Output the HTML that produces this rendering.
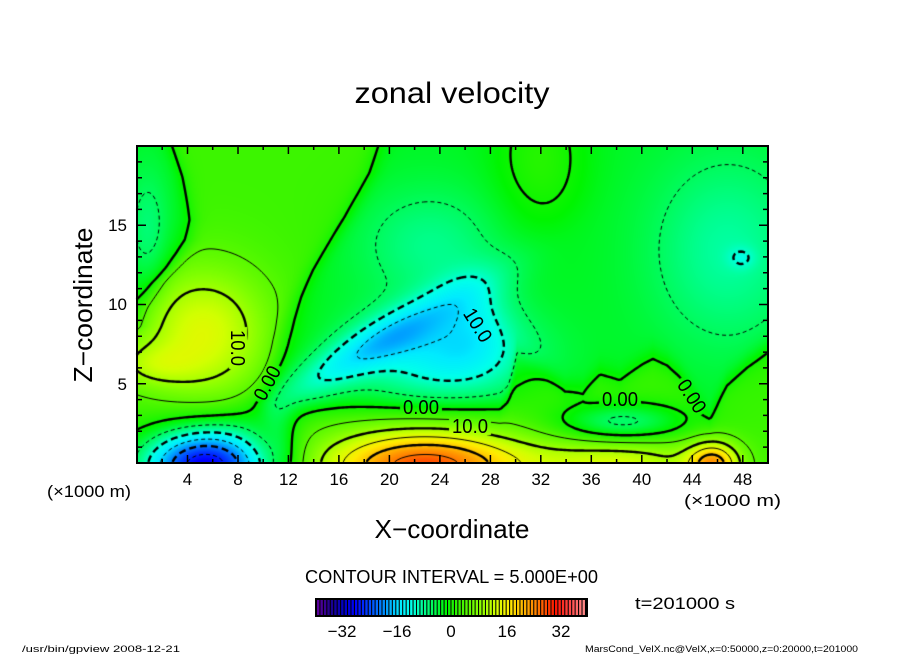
<!DOCTYPE html>
<html><head><meta charset="utf-8"><title>zonal velocity</title>
<style>
html,body{margin:0;padding:0;background:#fff}
#w{position:relative;width:904px;height:654px;overflow:hidden;background:#fff}
#c,#s{position:absolute;left:0;top:0}
text{font-family:"Liberation Sans",sans-serif;fill:#000}
</style></head><body><div id="w">
<canvas id="c" width="904" height="654"></canvas>
<svg id="s" width="904" height="654" viewBox="0 0 904 654" xmlns="http://www.w3.org/2000/svg">
<g id="ticks" stroke="#000" stroke-width="1.5" fill="none"></g>
<rect x="137" y="146" width="631" height="317" fill="none" stroke="#000" stroke-width="2"/>
<g id="cl" font-size="20"></g>
<text x="452" y="103" font-size="30" text-anchor="middle" textLength="195" lengthAdjust="spacingAndGlyphs">zonal velocity</text>
<text transform="translate(92,305) rotate(-90)" font-size="26" text-anchor="middle" textLength="155" lengthAdjust="spacingAndGlyphs">Z−coordinate</text>
<text x="452" y="538" font-size="26" text-anchor="middle" textLength="155" lengthAdjust="spacingAndGlyphs">X−coordinate</text>
<g font-size="17" text-anchor="end">
<text x="127" y="231">15</text>
<text x="127" y="310">10</text>
<text x="127" y="390">5</text>
</g>
<g id="xl" font-size="17" text-anchor="middle"></g>
<text x="47" y="497" font-size="17" textLength="84" lengthAdjust="spacingAndGlyphs">(×1000 m)</text>
<text x="684" y="506" font-size="17" textLength="97" lengthAdjust="spacingAndGlyphs">(×1000 m)</text>
<text x="451.5" y="583" font-size="18" text-anchor="middle" textLength="293" lengthAdjust="spacingAndGlyphs">CONTOUR INTERVAL = 5.000E+00</text>
<rect x="315" y="598" width="273" height="19" fill="#000"/>
<g id="cb"></g>
<g font-size="17" text-anchor="middle">
<text x="342" y="637">−32</text>
<text x="397" y="637">−16</text>
<text x="451" y="637">0</text>
<text x="507" y="637">16</text>
<text x="561" y="637">32</text>
</g>
<text x="635" y="609" font-size="17" textLength="100" lengthAdjust="spacingAndGlyphs">t=201000 s</text>
<text x="22" y="652" font-size="9" textLength="158" lengthAdjust="spacingAndGlyphs">/usr/bin/gpview   2008-12-21</text>
<text x="585" y="652" font-size="9" textLength="273" lengthAdjust="spacingAndGlyphs">MarsCond_VelX.nc@VelX,x=0:50000,z=0:20000,t=201000</text>
</svg></div>
<script>
(function(){
const X0=137,X1=768,Y0=146,Y1=463;
function lg(t){return 1/(1+Math.exp(-t));}
function pl(a,v){if(v<=a[0][0])return a[0][1];for(let i=1;i<a.length;i++){if(v<=a[i][0]){const t=(v-a[i-1][0])/(a[i][0]-a[i-1][0]);return a[i-1][1]+t*(a[i][1]-a[i-1][1]);}}return a[a.length-1][1];}
function g(x,y,cx,cy,sx,sy){const dx=(x-cx)/sx,dy=(y-cy)/sy;return Math.exp(-0.5*(dx*dx+dy*dy));}
function gr(x,y,cx,cy,sa,sb,ang){const c=Math.cos(ang),s=Math.sin(ang),dx=x-cx,dy=y-cy;const a=(dx*c+dy*s)/sa,b=(-dx*s+dy*c)/sb;return Math.exp(-0.5*(a*a+b*b));}
const Lp=[[145,172],[177,183],[220,192],[240,190],[253,183],[267,173],[283,157],[307,143],[327,138],[345,110],[470,100]];
const Rp=[[145,378],[173,370],[193,360],[217,347],[243,330],[270,312],[297,297],[320,287],[340,280],[373,273],[403,262],[425,268],[463,282]];
const Bp=[[0,408],[500,408],[508,395],[517,352],[530,362],[547,373],[565,388],[583,390],[600,374],[620,380],[643,363],[653,357],[667,363],[680,375],[700,405],[710,415],[717,403],[727,383],[747,363],[770,345]];
function F(x,y){
 let v=-2.5;
 v+=5.5*lg((x-pl(Lp,y))/5)*lg((pl(Rp,y)-x)/6);
 v+=5.5*lg((y-pl(Bp,x))/7)*lg((x-292)/6);
 v+=11*g(x,y,203,333,46,46);
 v+=5*g(x,y,150,365,30,15);
 v-=31*g(x,y,206,466,44,26);
 v-=9.5*gr(x,y,375,345,85,16,-0.52);
 v-=10.5*g(x,y,445,355,58,31);
 v-=4.5*g(x,y,475,315,26,30);
 v-=4.5*g(x,y,430,245,50,40);
 v+=24.5*g(x,y,425,466,70,25);
 v+=10*g(x,y,620,465,60,20);
 v+=18*g(x,y,713,465,18,16);
 v-=9.5*g(x,y,622,423,45,14);
 v-=5.5*g(x,y,728,250,55,68);
 v-=3*g(x,y,742,258,10,8);
 v+=4*g(x,y,540,160,32,50);
 v-=4*g(x,y,148,235,15,45);
 return v;
}
const CM=[[-38,[100,0,160]],[-34,[30,0,140]],[-30,[0,0,200]],[-27,[0,0,255]],[-20,[0,120,255]],[-14,[0,235,255]],[-11,[0,255,235]],[-8,[0,255,160]],[-4,[0,250,70]],[-1,[0,245,0]],[3,[60,245,0]],[8,[130,255,0]],[13,[210,255,0]],[17,[255,235,0]],[21,[255,180,0]],[25,[255,120,0]],[30,[255,20,0]],[34,[255,70,70]],[39,[255,150,150]]];
function cmap(v){
 if(v<=CM[0][0])return CM[0][1];
 for(let i=1;i<CM.length;i++){if(v<=CM[i][0]){const t=(v-CM[i-1][0])/(CM[i][0]-CM[i-1][0]);const a=CM[i-1][1],b=CM[i][1];return [a[0]+t*(b[0]-a[0]),a[1]+t*(b[1]-a[1]),a[2]+t*(b[2]-a[2])];}}
 return CM[CM.length-1][1];
}
const cv=document.getElementById('c'),ctx=cv.getContext('2d');
const W=X1-X0,H=Y1-Y0;
const img=ctx.createImageData(W,H);
for(let j=0;j<H;j++){for(let i=0;i<W;i++){const c=cmap(F(X0+i+0.5,Y0+j+0.5));const o=(j*W+i)*4;img.data[o]=c[0];img.data[o+1]=c[1];img.data[o+2]=c[2];img.data[o+3]=255;}}
ctx.putImageData(img,X0,Y0);
const S=2,NX=Math.floor((X1-1-X0)/S)+1,NY=Math.floor((Y1-1-Y0)/S)+1;
const V=new Float32Array(NX*NY);
for(let j=0;j<NY;j++)for(let i=0;i<NX;i++)V[j*NX+i]=F(X0+i*S,Y0+j*S);
function contour(lev){
 const pt=new Map(),adj=new Map();
 function ept(t,i,j){const k=((j*NX+i)*2)+t;if(!pt.has(k)){let a,b,xa=X0+i*S,ya=Y0+j*S,xb,yb;if(t===0){a=V[j*NX+i];b=V[j*NX+i+1];xb=xa+S;yb=ya;}else{a=V[j*NX+i];b=V[(j+1)*NX+i];xb=xa;yb=ya+S;}const q=(lev-a)/(b-a);pt.set(k,[xa+q*(xb-xa),ya+q*(yb-ya)]);}return k;}
 function add(k1,k2){if(!adj.has(k1))adj.set(k1,[]);if(!adj.has(k2))adj.set(k2,[]);adj.get(k1).push(k2);adj.get(k2).push(k1);}
 for(let j=0;j<NY-1;j++)for(let i=0;i<NX-1;i++){
  const a=V[j*NX+i],b=V[j*NX+i+1],c=V[(j+1)*NX+i+1],d=V[(j+1)*NX+i];
  const code=(a>=lev?8:0)|(b>=lev?4:0)|(c>=lev?2:0)|(d>=lev?1:0);
  if(code===0||code===15)continue;
  const T=()=>ept(0,i,j),R=()=>ept(1,i+1,j),B=()=>ept(0,i,j+1),L=()=>ept(1,i,j);
  const ce=(a+b+c+d)/4;
  switch(code){
   case 1:case 14:add(L(),B());break;
   case 2:case 13:add(B(),R());break;
   case 3:case 12:add(L(),R());break;
   case 4:case 11:add(T(),R());break;
   case 6:case 9:add(T(),B());break;
   case 7:case 8:add(L(),T());break;
   case 5:if(ce>=lev){add(L(),T());add(B(),R());}else{add(L(),B());add(T(),R());}break;
   case 10:if(ce>=lev){add(L(),B());add(T(),R());}else{add(L(),T());add(B(),R());}break;
  }
 }
 const vis=new Set(),lines=[];
 function walk(st){const line=[st];vis.add(st);let cur=st;while(true){const nb=adj.get(cur);let nx=-1;for(const n of nb){if(!vis.has(n)){nx=n;break;}}if(nx<0){if(line.length>2&&nb.includes(st))line.push(st);break;}vis.add(nx);line.push(nx);cur=nx;}return line.map(k=>pt.get(k));}
 for(const [k,nb] of adj)if(nb.length===1&&!vis.has(k))lines.push(walk(k));
 for(const [k] of adj)if(!vis.has(k))lines.push(walk(k));
 return lines;
}
const labels=[[238,348,90,"10.0"],[267,383,-62,"0.00"],[421,407,0,"0.00"],[470,426,0,"10.0"],[478,325,58,"10.0"],[620,399,0,"0.00"],[692,396,57,"0.00"]];
ctx.save();
const clip=new Path2D();clip.rect(X0-1,Y0-1,W+2,H+2);
const sg=document.getElementById('cl');let lh='';
for(const [cx,cy,a,t] of labels){
 const r=a*Math.PI/180,c=Math.cos(r),s=Math.sin(r),hw=21,hh=9;
 const pts=[[-hw,-hh],[hw,-hh],[hw,hh],[-hw,hh]].map(p=>[cx+p[0]*c-p[1]*s,cy+p[0]*s+p[1]*c]);
 clip.moveTo(pts[0][0],pts[0][1]);for(let k=1;k<4;k++)clip.lineTo(pts[k][0],pts[k][1]);clip.closePath();
 lh+='<text x="'+cx+'" y="'+(cy+7)+'" text-anchor="middle" textLength="36" lengthAdjust="spacingAndGlyphs" transform="rotate('+a+' '+cx+' '+cy+')">'+t+'</text>';
}
sg.innerHTML=lh;
ctx.clip(clip,'evenodd');
ctx.strokeStyle='#000';ctx.lineJoin='round';ctx.lineCap='butt';
for(let lev=-35;lev<=35;lev+=5){
 const thick=(lev%10===0);
 ctx.lineWidth=thick?2.4:1;
 if(lev<0)ctx.setLineDash(thick?[7,4]:[4,3]);else ctx.setLineDash([]);
 const ls=contour(lev);
 for(const l of ls){if(l.length<2)continue;ctx.beginPath();ctx.moveTo(l[0][0],l[0][1]);for(let k=1;k<l.length;k++)ctx.lineTo(l[k][0],l[k][1]);ctx.stroke();}
}
ctx.restore();
const tg=document.getElementById('ticks');let th='';
const px=u=>X0+u*631/50,py=z=>Y1-z*317/20;
for(let u=2;u<50;u+=2){const x=px(u).toFixed(1),L=(u%4===0)?8:4;th+='<path d="M'+x+' 463v-'+L+'M'+x+' 146v'+L+'"/>';}
for(let z=1;z<20;z++){const y=py(z).toFixed(1),L=(z%5===0)?9:5;th+='<path d="M137 '+y+'h'+L+'M768 '+y+'h-'+L+'"/>';}
tg.innerHTML=th;
const xg=document.getElementById('xl');let xh='';
for(let u=4;u<=48;u+=4){xh+='<text x="'+px(u).toFixed(1)+'" y="485">'+u+'</text>';}
xg.innerHTML=xh;
const cb=document.getElementById('cb');let ch='';
const n=78,per=269/n;
for(let k=0;k<n;k++){const x=317+k*per;const v=(x+1.2-450)/3.52;const c=cmap(v);ch+='<rect x="'+x.toFixed(2)+'" y="600" width="2.4" height="15" fill="rgb('+Math.round(c[0])+','+Math.round(c[1])+','+Math.round(c[2])+')"/>';}
cb.innerHTML=ch;
})();
</script>
</body></html>
